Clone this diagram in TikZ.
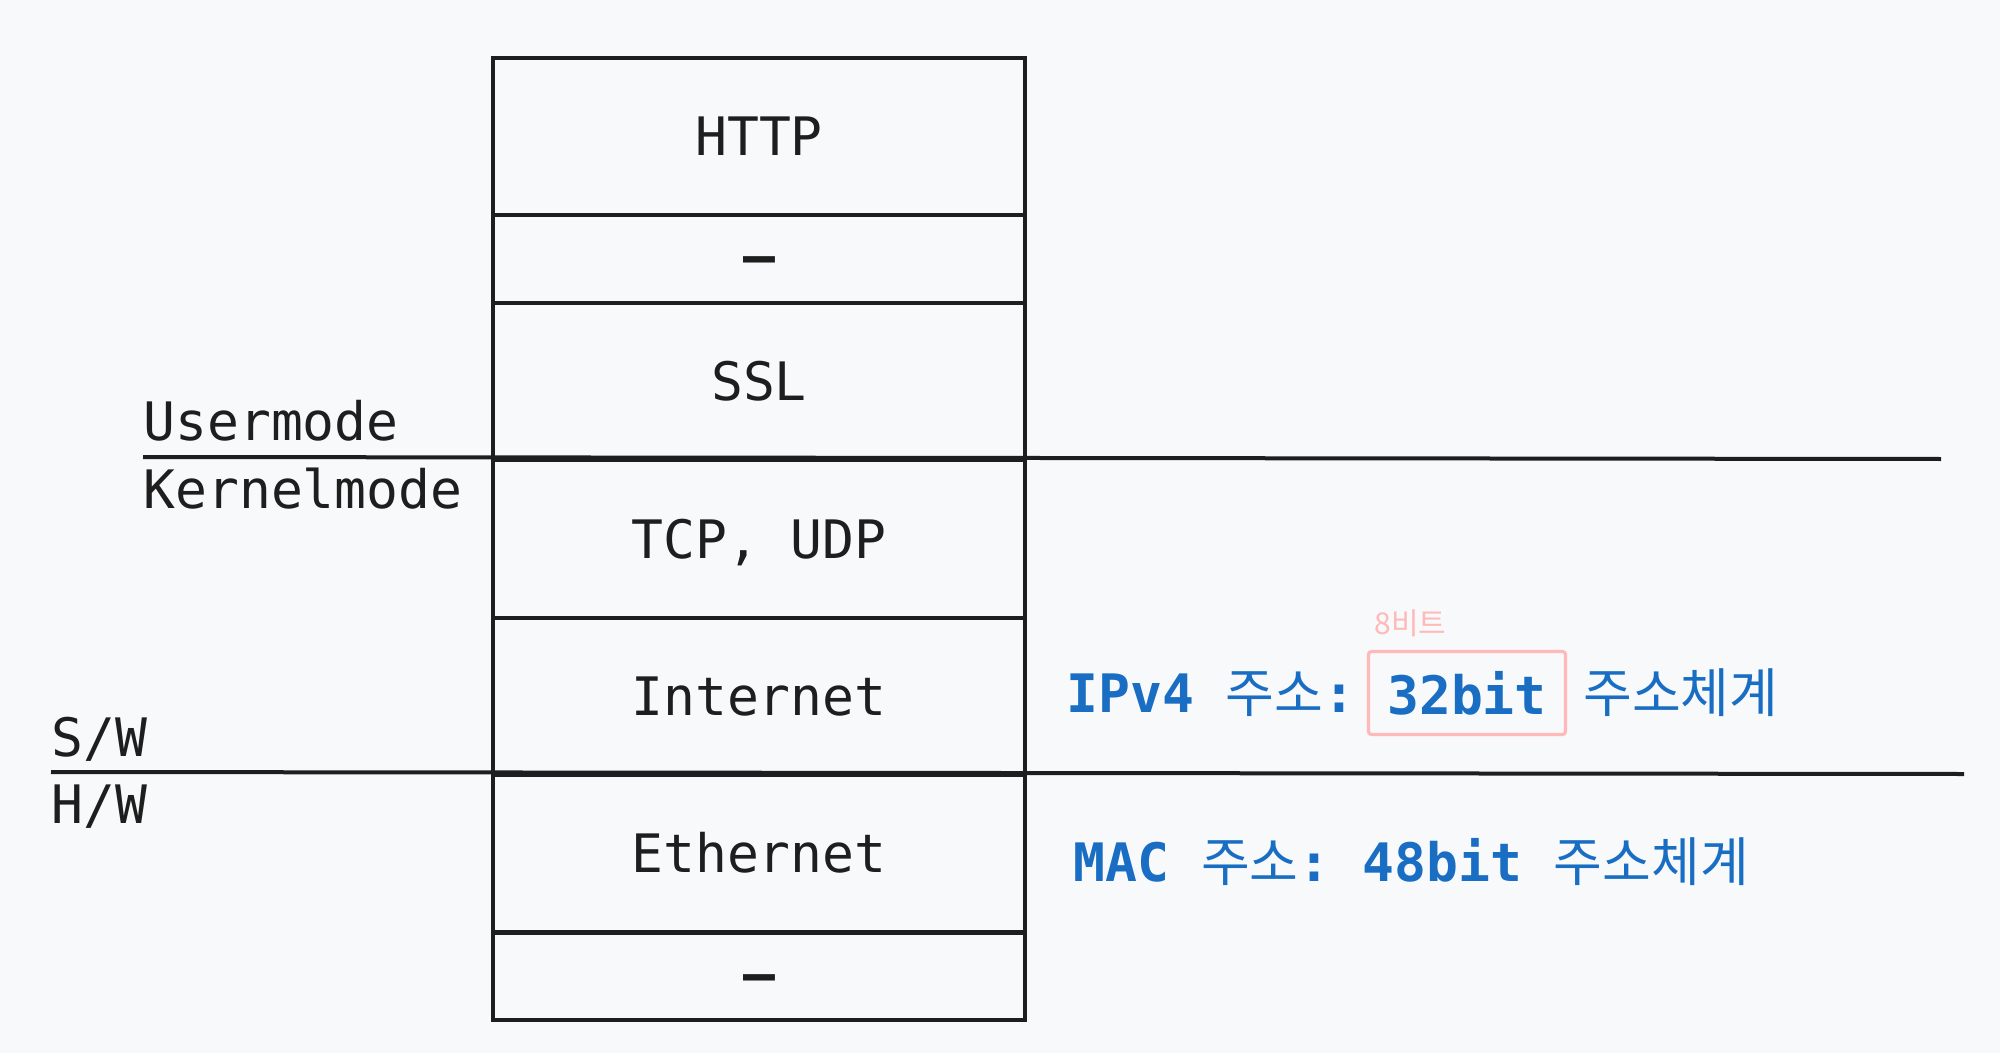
\documentclass[tikz,border=0pt]{standalone}
\usepackage{fontspec}
\setmonofont{DejaVu Sans Mono}
\newfontfamily\kr{Noto Sans CJK KR}
\definecolor{bgc}{RGB}{248,249,250}
\definecolor{ink}{RGB}{30,30,30}
\definecolor{bluet}{RGB}{25,110,195}
\definecolor{pinkc}{RGB}{255,185,185}
\newcommand{\K}[1]{{\kr\mdseries #1}}
\begin{document}
\begin{tikzpicture}[x=0.5pt,y=-0.5pt,
  layer/.style={draw=ink,line width=2pt,inner sep=0pt,anchor=north west,
    minimum width=266pt,text=ink,text height=19pt,text depth=0pt,
    font=\ttfamily\fontsize{26.5}{30}\selectfont},
  lbl/.style={inner sep=0pt,anchor=base west,text=ink,font=\ttfamily\fontsize{26.5}{30}\selectfont},
  blue/.style={inner sep=0pt,anchor=base west,text=bluet,font=\ttfamily\bfseries\fontsize{26.5}{30}\selectfont},
  sep/.style={draw=ink,line width=2pt}]
\fill[bgc] (0,0) rectangle (2000,1053);
\useasboundingbox (0,0) rectangle (2000,1053);
% layers
\node[layer,minimum height=78.5pt] (http) at (491,56) {HTTP};
\node[layer,minimum height=44pt] (d1) at (491,213) {\raisebox{1.5pt}{\bfseries –}};
\node[layer,minimum height=78.5pt] (ssl) at (491,301) {SSL};
\node[layer,minimum height=79pt] (tcp) at (491,458) {TCP, UDP};
\node[layer,minimum height=78.5pt] (inet) at (491,616) {Internet};
\node[layer,minimum height=78.5pt] (eth) at (491,773) {Ethernet};
\node[layer,minimum height=43.5pt] (d2) at (491,931) {\raisebox{1.5pt}{\bfseries –}};
% separators
\coordinate (u1) at (143,457);
\coordinate (u2) at (1941,459);
\coordinate (s1) at (51,772);
\coordinate (s2) at (1964,774);
\draw[sep] (u1) -- (u2);
\draw[sep] (s1) -- (s2);
% side labels
\node[lbl] (user) at (143,440) {Usermode};
\node[lbl] (kern) at (143,508) {Kernelmode};
\node[lbl] (sw) at (51,756) {S/W};
\node[lbl] (hw) at (51,823) {H/W};
% annotations
\node[blue] (ipv4) at (1066,712) {IPv4 \K{주소}:};
\node[draw=pinkc,line width=1.6pt,rounded corners=1.5pt,minimum width=98.5pt,minimum height=41.5pt,inner sep=0pt,text=bluet,font=\ttfamily\bfseries\fontsize{26.5}{30}\selectfont] (b32) at (1467,693) {32bit};
\node[blue] (sys1) at (1583,712) {\K{주소체계}};
\node[inner sep=0pt,anchor=base west,text=pinkc,font=\kr\fontsize{15}{18}\selectfont] (bit8) at (1374,634) {8비트};
\node[blue] (mac) at (1073,881) {MAC \K{주소}: 48bit \K{주소체계}};
\end{tikzpicture}
\end{document}
